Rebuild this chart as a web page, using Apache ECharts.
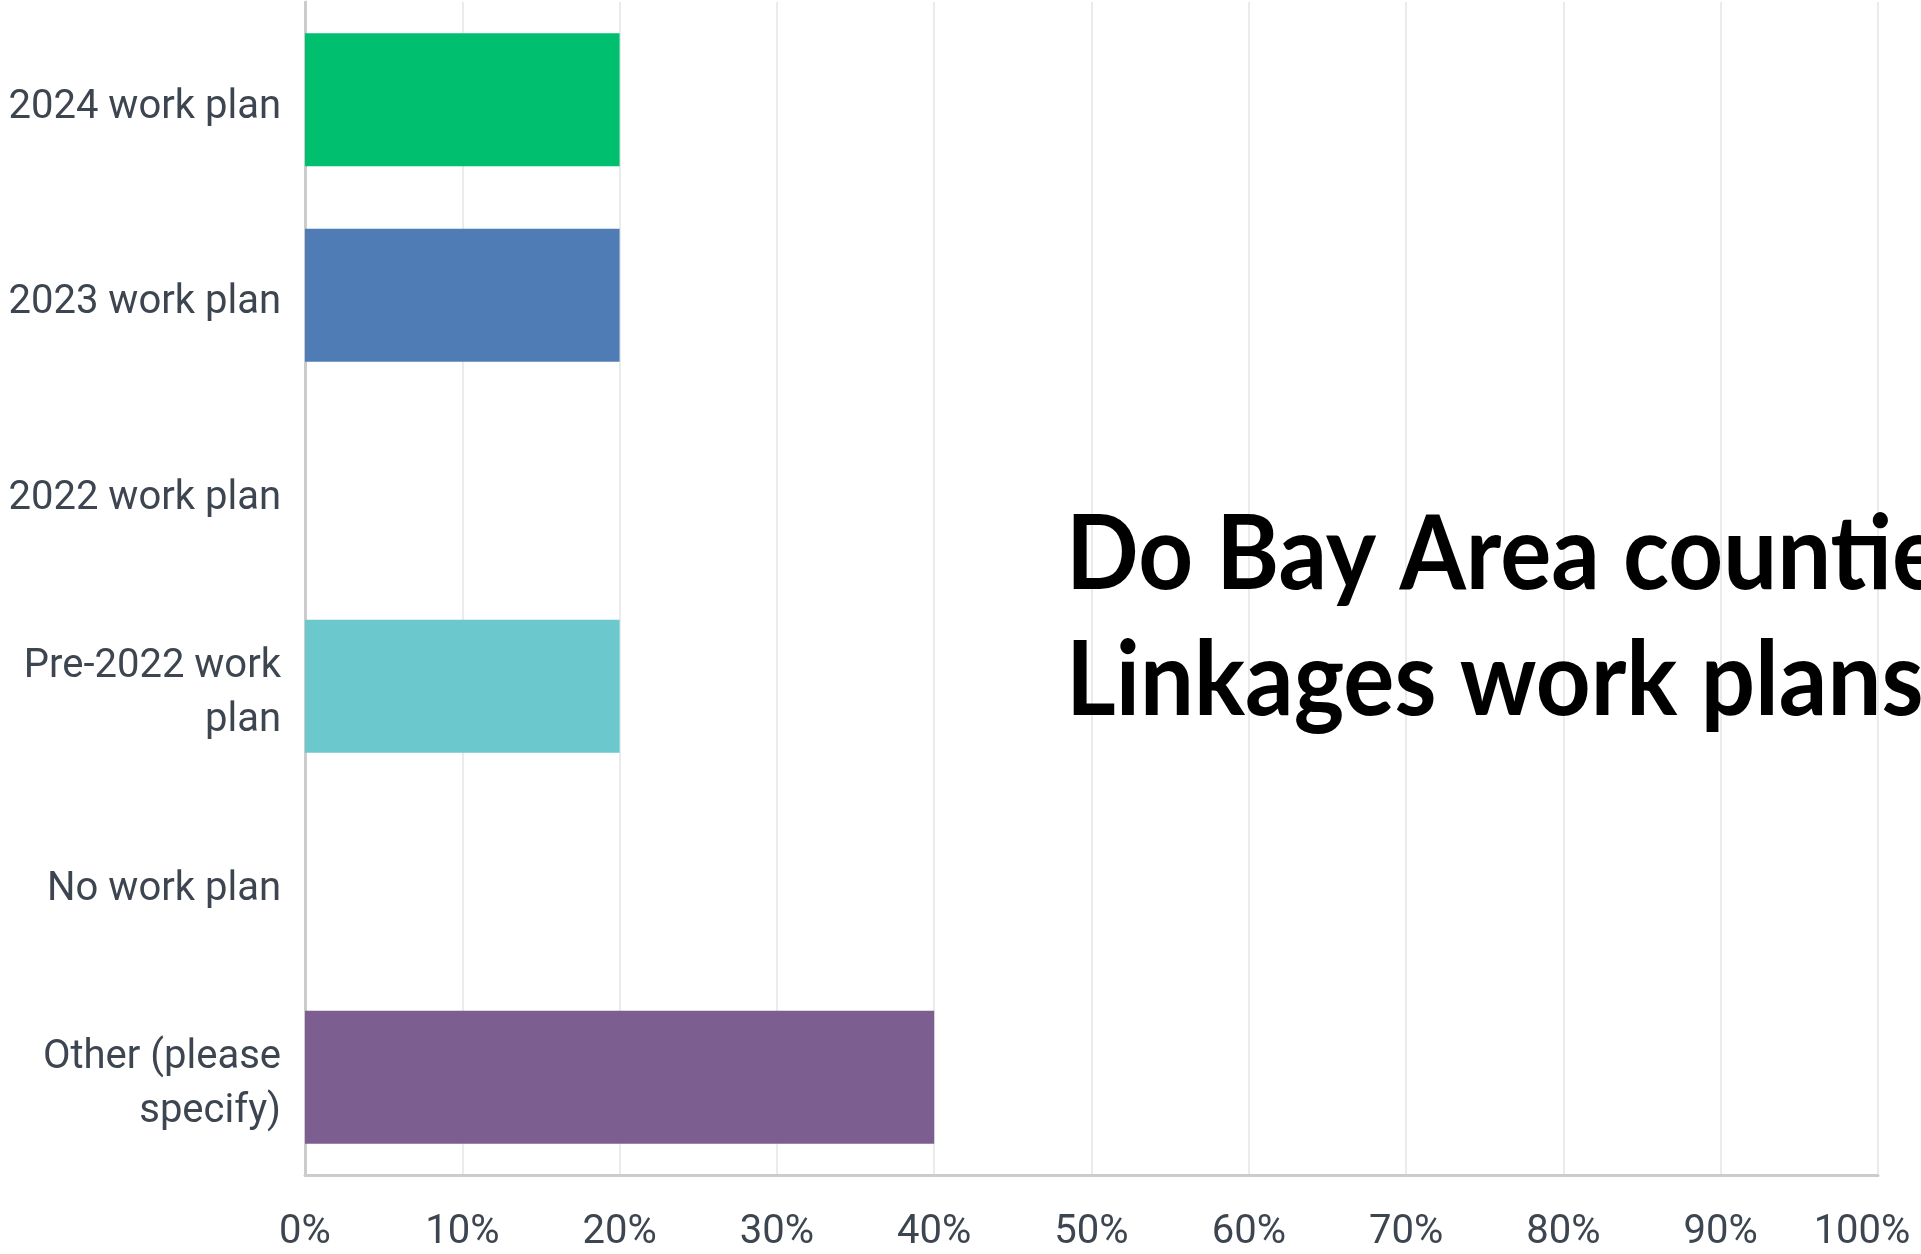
<!DOCTYPE html>
<html>
<head>
<meta charset="utf-8">
<script src="https://cdn.jsdelivr.net/npm/echarts@6/dist/echarts.min.js"></script>
<style>
  html, body { margin: 0; padding: 0; background: #fff; }
  #chart { width: 1921px; height: 1254px; }
</style>
</head>
<body>
<div id="chart"></div>
<script>
// survey answers, top to bottom
const categories = ['2024 work plan', '2023 work plan', '2022 work plan', 'Pre-2022 work\nplan', 'No work plan', 'Other (please\nspecify)'];
const percents = [20, 20, 0, 20, 0, 40];
const barColors = ['#00BF6F', '#507CB6', '#F9BE00', '#6BC8CD', '#FF8B4F', '#7D5E90'];
const xTicks = [0, 10, 20, 30, 40, 50, 60, 70, 80, 90, 100];
const titleLines = ['Do Bay Area counties have', 'Linkages work plans?'];

const myChart = echarts.init(document.getElementById('chart'));

const labelStyle = {
  color: '#3d4650',
  fontFamily: 'Roboto',
  fontSize: 40
};

let option = {
  animation: false,
  backgroundColor: '#fff',
  grid: [
    { left: 305, right: 43, top: 2, bottom: 79, containLabel: false },
    // same grid nudged down a little, only carries the category labels
    { left: 305, right: 43, top: 10, bottom: 71, containLabel: false }
  ],
  xAxis: [
    {
      type: 'value',
      gridIndex: 0,
      min: xTicks[0],
      max: xTicks[xTicks.length - 1],
      interval: 10,
      axisLine: { show: true, lineStyle: { color: '#cccccc', width: 3 } },
      axisTick: { show: false },
      splitLine: { show: true, lineStyle: { color: '#ebebeb', width: 2 } },
      axisLabel: Object.assign({
        margin: 38,
        // last label sits a bit left of its grid line, like the original
        formatter: v => v === xTicks[xTicks.length - 1] ? '{last|' + v + '%}' : v + '%',
        rich: { last: Object.assign({ padding: [0, 32, 0, 0] }, labelStyle) }
      }, labelStyle)
    },
    { type: 'value', gridIndex: 1, show: false }
  ],
  yAxis: [
    {
      type: 'category',
      gridIndex: 0,
      inverse: true,
      data: categories,
      axisLine: { show: true, lineStyle: { color: '#cccccc', width: 3 } },
      axisTick: { show: false },
      splitLine: { show: false },
      axisLabel: { show: false }
    },
    {
      type: 'category',
      gridIndex: 1,
      inverse: true,
      data: categories,
      axisLine: { show: false },
      axisTick: { show: false },
      splitLine: { show: false },
      axisLabel: Object.assign({ margin: 24, lineHeight: 54, align: 'right' }, labelStyle)
    }
  ],
  series: [{
    type: 'bar',
    xAxisIndex: 0,
    yAxisIndex: 0,
    barCategoryGap: '32%',
    data: percents.map((v, i) => ({ value: v, itemStyle: { color: barColors[i] } }))
  }],
  graphic: [
    {
      type: 'text', x: 1066, y: 503, scaleX: 0.92, z: 100,
      style: { text: titleLines[0], font: 'bold 104px Lato', fill: '#000' }
    },
    {
      type: 'text', x: 1066, y: 629, scaleX: 0.92, z: 100,
      style: { text: titleLines[1], font: 'bold 104px Lato', fill: '#000' }
    }
  ]
};
myChart.setOption(option);
</script>
</body>
</html>
